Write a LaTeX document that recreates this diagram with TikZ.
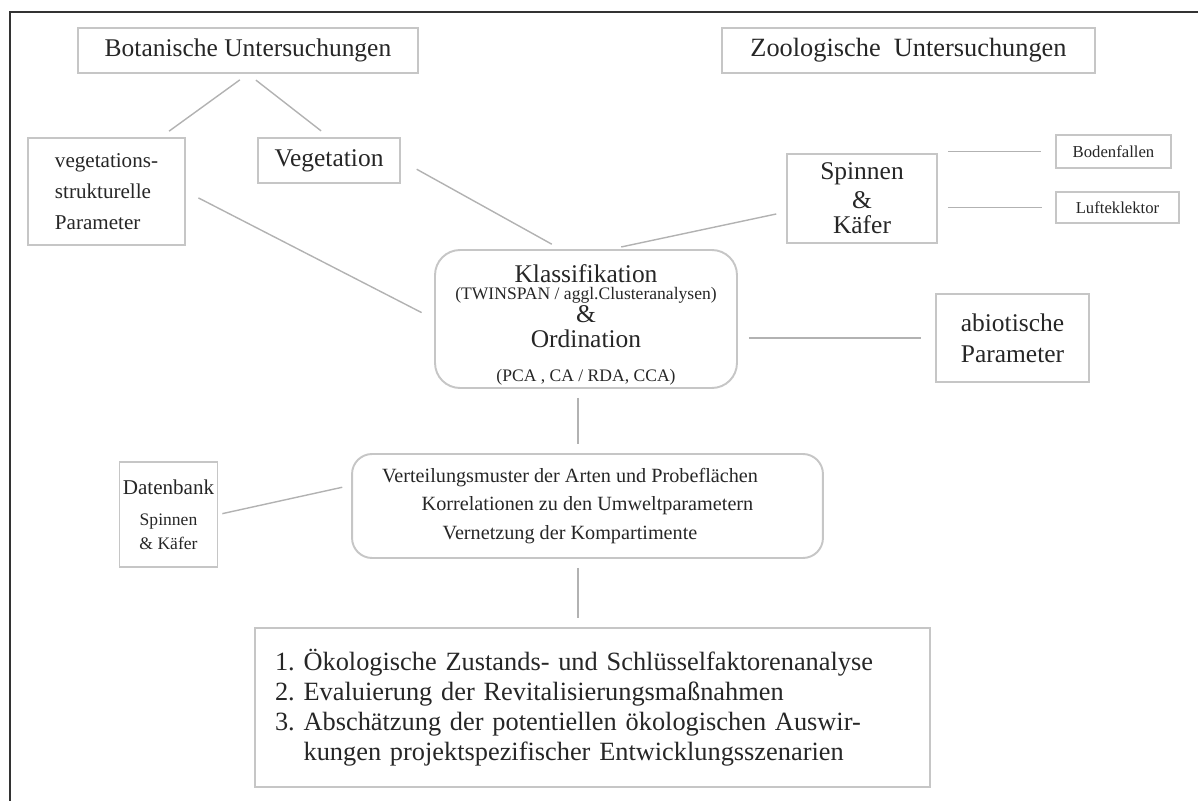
\documentclass[tikz,border=0pt]{standalone}
\usepackage{fontspec}
\setmainfont{Liberation Serif}
\frenchspacing

\begin{document}
\begin{tikzpicture}[x=0.02cm, y=-0.02cm,
        box/.style={draw=gray!45, line width=1.1pt, inner sep=1pt, text=black!85, align=center},
        rbox/.style={box, rounded corners=0.5cm},
        link/.style={draw=gray!60, line width=0.8pt, shorten <=0.2cm, shorten >=0.2cm}]
    \tikzstyle{big}=[font=\fontsize{14.5}{15}\selectfont]
    \useasboundingbox (0,0) rectangle (1198,801);
    \draw[line width=1.7pt, black!80] (10,801) -- (10,12) -- (1198,12);

    \node[box, big, minimum width=6.8cm,  minimum height=0.9cm]  (bot)   at (248,50.5)    {Botanische Untersuchungen};
    \node[box, minimum width=7.46cm, minimum height=0.9cm,
          font=\fontsize{15}{15}\selectfont]                       (zoo)   at (908.5,50.5)  {Zoologische\ \ Untersuchungen};
    \node[box, minimum width=3.14cm, minimum height=2.14cm, align=left,
          font=\fontsize{12}{17.5}\selectfont]                     (vsp)   at (106.5,191.5) {vegetations-\\strukturelle\\Parameter};
    \node[box, big, minimum width=2.84cm, minimum height=0.9cm]  (veg)   at (329,160.5)   {Vegetation};
    \node[box, minimum width=3cm, minimum height=1.78cm,
          font=\fontsize{14.5}{14.7}\selectfont]                   (spin)  at (862,198.5)   {Spinnen\\[1.5pt]\&\\Käfer};
    \node[box, minimum width=2.3cm, minimum height=0.66cm,
          font=\fontsize{9.5}{10}\selectfont]                      (boden) at (1113.5,151.5) {Bodenfallen};
    \node[box, minimum width=2.46cm, minimum height=0.62cm,
          font=\fontsize{9.5}{10}\selectfont]                      (luft)  at (1117.5,207.5) {Lufteklektor};
    \node[rbox, minimum width=6.04cm, minimum height=2.76cm,
          font=\fontsize{14.5}{14.5}\selectfont]                   (klass) at (586,319)
          {\rule{0pt}{17pt}Klassifikation\\[-4.8pt]
           {\fontsize{10}{11}\selectfont (TWINSPAN / aggl.Clusteranalysen)}\\[-1.3pt]
           \&\\[-0.5pt]
           Ordination\\[5pt]
           {\fontsize{10}{11}\selectfont (PCA , CA / RDA, CCA)}};
    \node[box, minimum width=3.06cm, minimum height=1.76cm,
          font=\fontsize{14.5}{17.5}\selectfont]                   (abiot) at (1012.5,338)  {abiotische\\Parameter};
    \node[box, minimum width=1.96cm, minimum height=2.1cm,
          font=\fontsize{10}{13.6}\selectfont]                     (daten) at (168.5,514.5)
          {{\fontsize{12}{13}\selectfont Datenbank}\\[4pt]Spinnen\\\& Käfer};
    \node[rbox, rounded corners=0.4cm, minimum width=9.42cm, minimum height=2.08cm,
          font=\fontsize{11.5}{16}\selectfont]                     (vert)  at (587.5,506)
          {Verteilungsmuster der Arten und Probeflächen\hspace*{0.7cm}\\
           Korrelationen zu den Umweltparametern\hspace*{0.7cm}\\
           Vernetzung der Kompartimente\hspace*{0.7cm}};
    \node[box, minimum width=13.5cm, minimum height=3.18cm, text width=12.7cm, align=left,
          font=\fontsize{15}{17}\selectfont]                       (res)   at (592.5,707.5)
          {1. Ökologische Zustands- und Schlüsselfaktorenanalyse\\
           2. Evaluierung der Revitalisierungsmaßnahmen\\
           3. Abschätzung der potentiellen ökologischen Auswir-\\
           \phantom{3. }kungen projektspezifischer Entwicklungsszenarien};
    \coordinate (axis) at (578,0);

    \draw[link] (bot.south) -- (vsp.45);
    \draw[link] (bot.south) -- (veg.north);
    \draw[link, shorten <=0.28cm, shorten >=0.28cm] (vsp.east) -- (klass.west);
    \draw[link, shorten <=0.36cm] (veg.east) -- (klass.110);
    \draw[link] (klass.70) -- (spin.190);
    \draw[link, shorten >=0.28cm] (spin.east |- boden.west) -- (boden.west);
    \draw[link, shorten >=0.26cm] (spin.east |- luft.west) -- (luft.west);
    \draw[link, shorten <=0.22cm, shorten >=0.28cm] (klass.east |- abiot.west) -- (abiot.west);
    \draw[link, shorten <=0.18cm, shorten >=0.18cm] (klass.south -| axis) -- (vert.north -| axis);
    \draw[link, shorten <=0.18cm, shorten >=0.18cm] (vert.south -| axis) -- (res.north -| axis);
    \draw[link, shorten <=0.08cm, shorten >=0.18cm] (daten.east) -- (vert.175);
\end{tikzpicture}
\end{document}
